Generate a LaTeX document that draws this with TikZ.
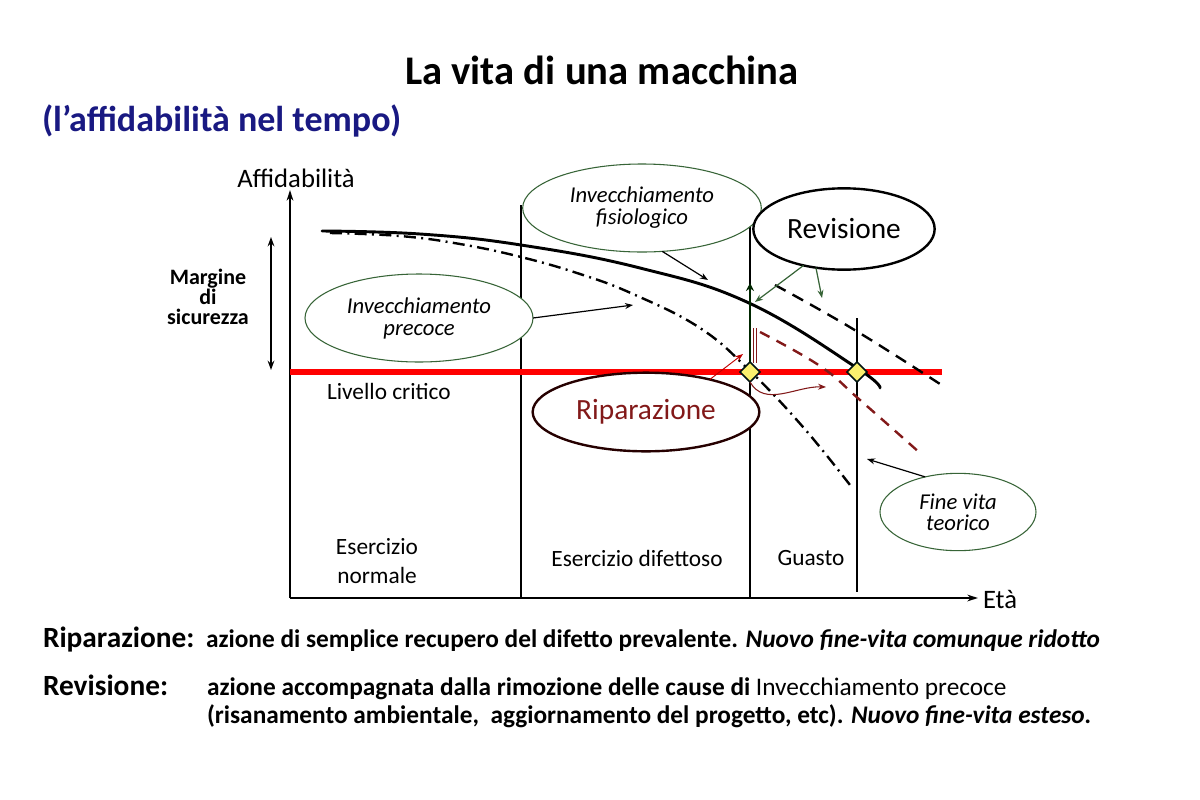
\documentclass[tikz,border=0pt]{standalone}
\usepackage{fontspec}
\setmainfont{Carlito}
\usetikzlibrary{shapes.geometric,arrows.meta}
\definecolor{navy}{RGB}{25,25,130}
\definecolor{dkred}{RGB}{130,25,25}
\definecolor{dkgreen}{RGB}{55,100,55}
\definecolor{ylw}{RGB}{250,240,110}
\begin{document}
\begin{tikzpicture}[x=0.75pt,y=-0.75pt,
  every node/.style={inner sep=0pt, outer sep=0pt},
  gell/.style={ellipse, draw=dkgreen, line width=0.8pt, align=center, font=\fontsize{17}{16.5}\selectfont\itshape},
  bell/.style={ellipse, draw=black, line width=1.8pt, font=\fontsize{22}{26}\selectfont},
  axlab/.style={font=\fontsize{17.5}{22}\selectfont, align=center},
  ptr/.style={-{Stealth[length=6pt,width=4.5pt]}, line width=0.9pt},
  marker/.style={diamond, draw=black!85!teal, fill=ylw, line width=1.3pt, minimum size=15pt},
  axis/.style={line width=1.5pt, -{Stealth[length=8pt,width=5pt]}},
  divider/.style={line width=1pt},
  body/.style={anchor=base west, font=\fontsize{19}{22}\selectfont\bfseries},
  head/.style={anchor=base west, font=\fontsize{22}{26}\selectfont\bfseries},
  ]
\useasboundingbox (0,0) rectangle (1200,800);
\fill[white] (0,0) rectangle (1200,800);

% titles
\node[anchor=base, font=\fontsize{30.5}{36}\selectfont\bfseries] (title) at (602,84) {La vita di una macchina};
\node[anchor=base west, text=navy, font=\fontsize{27}{32}\selectfont\bfseries] (sub) at (42,131) {(l’affidabilità nel tempo)};

% axes
\coordinate (O) at (290,598);
\coordinate (ytop) at (290,190);
\coordinate (xend) at (978,598);
\draw[axis] (O) -- (ytop);
\draw[axis] (O) -- (xend);
\node[anchor=base, font=\fontsize{20}{24}\selectfont] (ylab) at (296,187) {Affidabilità};
\node[anchor=base west, font=\fontsize{20}{24}\selectfont] (xlab) at (983,608) {Età};

% dividers
\coordinate (v1t) at (521,205); \coordinate (v1b) at (521,598);
\coordinate (v2t) at (750,225); \coordinate (v2b) at (750,598);
\coordinate (v3t) at (857,318); \coordinate (v3b) at (857,592);
\draw[divider] (v1t) -- (v1b);
\draw[divider] (v2t) -- (v2b);
\draw[divider] (v3t) -- (v3b);

% critical level
\coordinate (crit0) at (290,372);
\coordinate (crit1) at (942,372);
\draw[red, line width=5pt] (crit0) -- (crit1);

% curves
\draw[line width=2.2pt, line cap=round] plot[smooth, tension=0.7] coordinates {(322,231) (420,234) (521,245) (640,268) (749,303) (857,368) (880,388)};
\draw[line width=1.8pt, dash pattern=on 9pt off 4pt on 1.5pt off 4pt] plot[smooth, tension=0.7] coordinates {(330,233) (400,236) (460,244) (521,257) (580,274) (633,294) (700,328) (750,371) (803,427) (850,485)};
\draw[line width=1.8pt, dash pattern=on 9pt off 6pt] plot[smooth, tension=0.7] coordinates {(775,285) (853,329) (940,384)};
\draw[dkred, line width=1.8pt, dash pattern=on 8pt off 6pt] plot[smooth, tension=0.7] coordinates {(760,332) (820,366) (860,400) (920,453)};

% markers
\node[marker] (d1) at (750,372) {};
\node[marker] (d2) at (857,372) {};

% jumps
\coordinate (revTop) at (750,283);
\coordinate (repTop) at (755,328);
\draw[line width=2pt, draw=black!85!green, -{Stealth[length=6pt,width=6pt]}] (d1.north) -- (revTop);
\draw[dkred, line width=0.7pt, double=white, double distance=2pt] (d1.north east) ++(0,-4) coordinate (repBase) -- (repTop);

% ellipses
\node[gell, minimum width=179pt, minimum height=66pt, fill=white] (fisio) at (642,208) {Invecchiamento\\fisiologico};
\node[bell, minimum width=136pt, minimum height=61pt, fill=white] (revis) at (844,229) {Revisione};
\node[gell, minimum width=171pt, minimum height=66pt, fill=white] (precoce) at (419,318) {Invecchiamento\\precoce};
\node[bell, draw=black!85!red, text=dkred, minimum width=170pt, minimum height=59pt, fill=white] (ripar) at (646,412) {Riparazione};
\node[gell, minimum width=117pt, minimum height=58pt, fill=white, font=\fontsize{17}{16}\selectfont\itshape] (fine) at (958,512) {Fine vita\\teorico};

% pointers
\coordinate (fisioTip) at (708,280);
\coordinate (precTip) at (633,305);
\coordinate (revTip1) at (755,302);
\coordinate (revTip2) at (822,298);
\coordinate (ripTip1) at (743,354);
\coordinate (ripTip2) at (826,387);
\coordinate (fineTip) at (867,459);
\draw[ptr] (fisio.-65) -- (fisioTip);
\draw[ptr] (precoce.east) -- (precTip);
\draw[ptr, dkgreen] (revis.-138) -- (revTip1);
\draw[ptr, dkgreen] (revis.-126) -- (revTip2);
\draw[ptr, red!75!black, line width=0.7pt] (ripar.27) -- (ripTip1);
\draw[ptr, dkred, line width=0.8pt] (d1.south) to[out=-60, in=178] (ripTip2);
\draw[ptr] (fine.133) -- (fineTip);

% safety margin
\coordinate (mTop) at (271,237);
\coordinate (mBot) at (271,370);
\draw[line width=1.5pt, {Stealth[length=7pt,width=5pt]}-{Stealth[length=7pt,width=5pt]}] (mTop) -- (mBot);
\node[font=\fontsize{16.5}{15}\selectfont\bfseries, align=center] (margine) at (208,297) {Margine\\di\\sicurezza};

% region labels
\node[axlab, anchor=west] (livello) at (327,391) {Livello critico};
\node[axlab] (esnorm) at (377,561) {Esercizio\\normale};
\node[axlab] (esdif) at (637,558) {Esercizio difettoso};
\node[axlab] (guasto) at (811,558) {Guasto};

% bottom notes
\node[head] (lrip) at (43,647) {Riparazione:};
\node[body] (trip) at (206,647) {azione di semplice recupero del difetto prevalente. \textit{Nuovo fine-vita comunque ridotto}};
\node[head] (lrev) at (43,695) {Revisione:};
\node[body] (trev1) at (207,695) {azione accompagnata dalla rimozione delle cause di {\mdseries Invecchiamento precoce}};
\node[body] (trev2) at (207,723) {(risanamento ambientale,\ \ aggiornamento del progetto, etc). \textit{Nuovo fine-vita esteso.}};
\end{tikzpicture}
\end{document}
